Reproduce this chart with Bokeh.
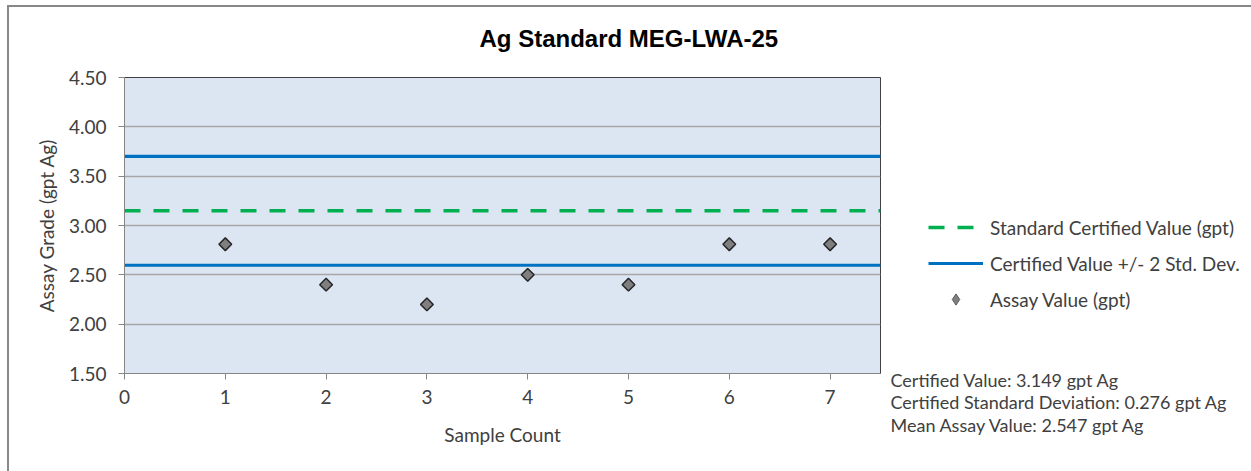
import math

from bokeh.embed import file_html
from bokeh.layouts import row
from bokeh.models import Label, Legend, LegendItem, PrintfTickFormatter, Range1d
from bokeh.plotting import figure
from bokeh.resources import INLINE

# --- data -----------------------------------------------------------------
sample_count = [1, 2, 3, 4, 5, 6, 7]
assay_values = [2.81, 2.40, 2.20, 2.50, 2.40, 2.81, 2.81]
certified_value = 3.149
certified_sd = 0.276
mean_assay = 2.547
line_x = [0, 7.5]
x_ticks = [0, 1, 2, 3, 4, 5, 6, 7]
y_ticks = [1.5, 2.0, 2.5, 3.0, 3.5, 4.0, 4.5]

upper_limit = certified_value + 2 * certified_sd
lower_limit = certified_value - 2 * certified_sd

FONT = "Lato"
TEXT_COLOR = "#404040"
CERT_STYLE = dict(line_color="#00b050", line_width=3.5, line_dash="16 13")
LIMIT_STYLE = dict(line_color="#0070c0", line_width=3.2)
ASSAY_FILL = "#7f7f7f"
ASSAY_EDGE = "#262626"

# --- main chart -----------------------------------------------------------
p = figure(
    width=882, height=471,
    output_backend="svg", toolbar_location=None,
    x_range=Range1d(0, 7.5), y_range=Range1d(1.5, 4.5),
    min_border_left=124, min_border_right=2,
    min_border_top=77, min_border_bottom=98,
)
p.background_fill_color = "#dce6f2"
p.border_fill_alpha = 0
p.outline_line_color = "#404040"
p.outline_line_width = 1
p.styles = {
    "background-color": "white",
    "box-shadow": "inset 7px 5px 0 0 white, inset 9px 7px 0 0 #888888",
}

p.title.text = "Ag Standard MEG-LWA-25"
p.title.align = "left"
p.title.offset = 355
p.title.text_font = "Liberation Sans"
p.title.text_font_style = "bold"
p.title.text_font_size = "24px"
p.title.text_color = "black"
p.title.vertical_align = "top"
p.title.standoff = 47

# grid: horizontal only
p.xgrid.visible = False
p.ygrid.ticker = y_ticks
p.ygrid.grid_line_color = "#a6a6a6"
p.ygrid.grid_line_width = 1.5

# axes
for ax in (p.xaxis[0], p.yaxis[0]):
    ax.axis_line_color = "#868686"
    ax.axis_line_width = 1
    ax.major_tick_line_color = "#868686"
    ax.major_tick_in = 0
    ax.major_tick_out = 6
    ax.minor_tick_line_color = None
    ax.major_label_text_font = FONT
    ax.major_label_text_font_size = "19px"
    ax.major_label_text_color = TEXT_COLOR
    ax.axis_label_text_font = FONT
    ax.axis_label_text_font_size = "19px"
    ax.axis_label_text_font_style = "normal"
    ax.axis_label_text_color = TEXT_COLOR

p.xaxis.ticker = x_ticks
p.xaxis.major_label_standoff = 10
p.xaxis.axis_label = "Sample Count"
p.xaxis.axis_label_standoff = 16

p.yaxis.ticker = y_ticks
p.yaxis.formatter = PrintfTickFormatter(format="%.2f")
p.yaxis.major_label_standoff = 12
p.yaxis.axis_label = "Assay Grade (gpt Ag)"
p.yaxis.axis_label_standoff = 8

# certified value and +/- 2 SD limits
p.line(line_x, [certified_value] * len(line_x), **CERT_STYLE)
p.line(line_x, [upper_limit] * len(line_x), **LIMIT_STYLE)
p.line(line_x, [lower_limit] * len(line_x), **LIMIT_STYLE)

# assay results, drawn as diamonds (squares turned 45 degrees)
p.scatter(sample_count, assay_values, marker="square", angle=math.pi / 4,
          size=9, fill_color=ASSAY_FILL, line_color=ASSAY_EDGE, line_width=1.5)

# --- side panel: legend and summary statistics ------------------------------
side = figure(
    width=369, height=471,
    output_backend="svg", toolbar_location=None,
    x_range=Range1d(0, 1), y_range=Range1d(0, 1),
    x_axis_type=None, y_axis_type=None,
    min_border=0,
)
side.frame_align = False
side.background_fill_alpha = 0
side.border_fill_alpha = 0
side.outline_line_color = None
side.grid.visible = False
side.styles = {
    "background-color": "white",
    "box-shadow": "inset 0 5px 0 0 white, inset 0 7px 0 0 #888888",
}

# legend keys, styled like the series in the main chart (no visible points)
nan = float("nan")
k_cert = side.line([nan], [nan], **CERT_STYLE)
k_limit = side.line([nan], [nan], **LIMIT_STYLE)
k_assay = side.scatter([nan], [nan], marker="diamond", fill_color=ASSAY_FILL,
                       line_color="#595959", line_width=1)

legend = Legend(
    items=[
        LegendItem(label="Standard Certified Value (gpt)", renderers=[k_cert]),
        LegendItem(label="Certified Value +/- 2 Std. Dev.", renderers=[k_limit]),
        LegendItem(label="Assay Value (gpt)", renderers=[k_assay]),
    ],
    location=(46, 158),
    padding=0, margin=0, spacing=8,
    glyph_width=55, glyph_height=28, label_height=20, label_standoff=7,
    label_text_font=FONT, label_text_font_size="19px",
    label_text_color=TEXT_COLOR,
    border_line_alpha=0, background_fill_alpha=0,
)
side.add_layout(legend, "center")

stats_lines = [
    f"Certified Value: {certified_value:.3f} gpt Ag",
    f"Certified Standard Deviation: {certified_sd:.3f} gpt Ag",
    f"Mean Assay Value: {mean_assay:.3f} gpt Ag",
]
for i, txt in enumerate(stats_lines):
    side.add_layout(Label(x=8, y=92 - 22.5 * i, x_units="screen",
                          y_units="screen", text=txt, text_align="left",
                          text_baseline="middle", text_font=FONT,
                          text_font_size="18px", text_color=TEXT_COLOR))

layout = row(p, side, spacing=0)

open("out.html", "w").write(file_html(layout, INLINE))
